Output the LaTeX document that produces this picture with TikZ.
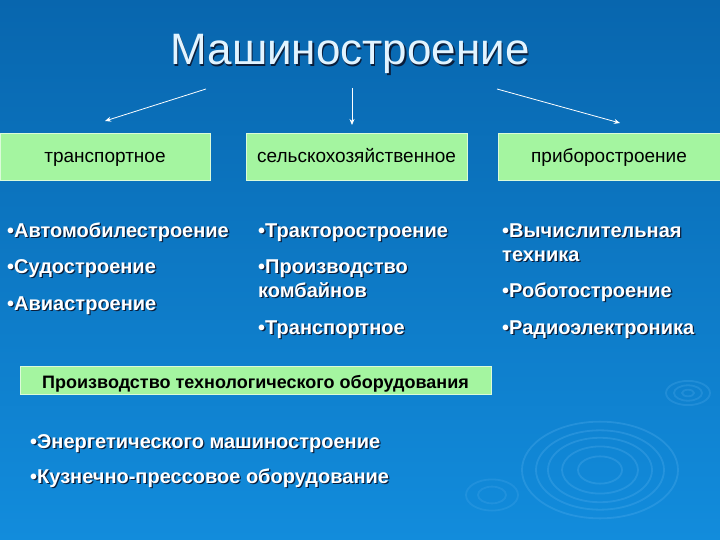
\documentclass[tikz,border=0pt]{standalone}
\usepackage{fontspec}
\setmainfont{Liberation Sans}
\usetikzlibrary{arrows.meta}
\definecolor{bgtop}{HTML}{0866AE}
\definecolor{bgbot}{HTML}{128CDC}
\definecolor{boxgreen}{HTML}{A4F5A0}
\definecolor{titlecol}{HTML}{E2F4FF}
\definecolor{shadowcol}{HTML}{0A1E3C}
\definecolor{ripple}{HTML}{5CB4F0}
\newcommand{\shtext}[2]{%
  \makebox[0pt][l]{\raisebox{-1.3pt}{\hspace{1.3pt}\textcolor{shadowcol}{#2}}}\textcolor{#1}{#2}}
\tikzset{
  catbox/.style={draw=white!60!boxgreen, line width=0.6pt, fill=boxgreen,
    minimum height=47pt, inner sep=0pt},
  boxtext/.style={anchor=base, inner sep=0pt, font=\fontsize{19}{22}\selectfont, text=black},
  arr/.style={draw=white, line width=0.8pt, -{Stealth[length=6pt,width=5pt]}},
  item/.style={anchor=base west, inner sep=0pt,
    font=\bfseries\fontsize{20}{24}\selectfont, text=white},
  rip/.style={draw=ripple, opacity=0.28, line width=1.8pt}
}
\begin{document}
\begin{tikzpicture}[x=1pt,y=-1pt]
\useasboundingbox (0,0) rectangle (720,540);
\shade[top color=bgtop, bottom color=bgbot] (0,0) rectangle (720,540);
% ripples
\foreach \r in {22,38,52,64,78}{\draw[rip] (600,470) ellipse ({\r} and {\r*0.62});}
\foreach \r in {6,14,22}{\draw[rip, opacity=0.24] (688,393) ellipse ({\r} and {\r*0.55});}
\foreach \r in {14,26}{\draw[rip, opacity=0.2] (492,495) ellipse ({\r} and {\r*0.6});}
% title
\node[anchor=base, inner sep=0pt] (title) at (350,65) {\fontsize{44}{50}\selectfont\shtext{titlecol}{Машиностроение}};
% boxes
\node[catbox, minimum width=210pt, anchor=north west] (b1) at (0,133) {};
\node[catbox, minimum width=221pt, anchor=north west] (b2) at (246,133) {};
\node[catbox, minimum width=222pt, anchor=north west] (b3) at (498,133) {};
\node[boxtext] (t1) at (105,163) {транспортное};
\node[boxtext] (t2) at (356.5,163) {сельскохозяйственное};
\node[boxtext] (t3) at (609,163) {приборостроение};
% arrows
\coordinate (s1) at (206,89);
\coordinate (s2) at (352,88);
\coordinate (s3) at (497,89);
\coordinate (e1) at (105,121);
\coordinate (e2) at (352,125);
\coordinate (e3) at (620,123);
\draw[arr] (s1) -- (e1);
\draw[arr] (s2) -- (e2);
\draw[arr] (s3) -- (e3);
% left list
\node[item] (a1) at (7,237) {\shtext{white}{•Автомобилестроение}};
\node[item] (a2) at (7,273) {\shtext{white}{•Судостроение}};
\node[item] (a3) at (7,310) {\shtext{white}{•Авиастроение}};
% middle list
\node[item] (m1) at (258,237) {\shtext{white}{•Тракторостроение}};
\node[item] (m2) at (258,273) {\shtext{white}{•Производство}};
\node[item] (m3) at (258,297) {\shtext{white}{комбайнов}};
\node[item] (m4) at (258,334) {\shtext{white}{•Транспортное}};
% right list
\node[item] (r1) at (502,237) {\shtext{white}{•Вычислительная}};
\node[item] (r2) at (502,261) {\shtext{white}{техника}};
\node[item] (r3) at (502,297) {\shtext{white}{•Роботостроение}};
\node[item] (r4) at (502,334) {\shtext{white}{•Радиоэлектроника}};
% bottom box
\node[catbox, minimum width=471pt, minimum height=28pt, anchor=north west] (b4) at (20,366) {};
\node[boxtext, font=\fontsize{18}{20}\selectfont\bfseries] (t4) at (255.5,388) {Производство технологического оборудования};
\node[item] (n1) at (30,448) {\shtext{white}{•Энергетического машиностроение}};
\node[item] (n2) at (30,483) {\shtext{white}{•Кузнечно-прессовое оборудование}};
\end{tikzpicture}
\end{document}
